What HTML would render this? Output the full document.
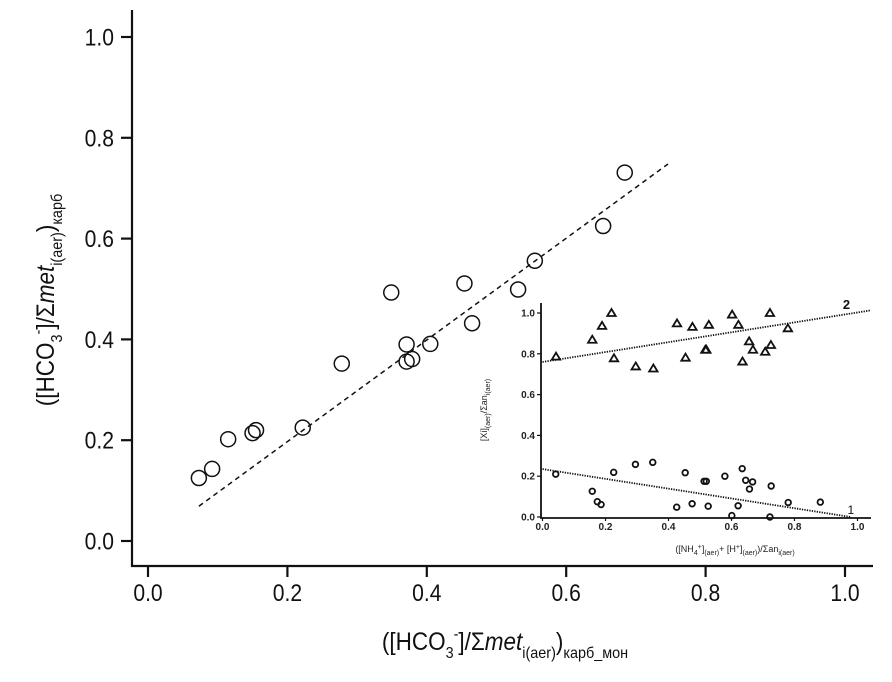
<!DOCTYPE html>
<html><head><meta charset="utf-8"><style>
html,body{margin:0;padding:0;background:#fff;}
svg{display:block;font-family:"Liberation Sans",sans-serif;}
</style></head><body>
<svg id="chart" width="892" height="682" viewBox="0 0 892 682">
<g id="main"></g>
<g id="inset"></g>
<text transform="translate(54,300) rotate(-90) scale(0.9,1)" text-anchor="middle" font-size="25" fill="#111">([HCO<tspan font-size="16" dy="8">3</tspan><tspan font-size="16" dy="-19">-</tspan><tspan dy="11">]/Σ</tspan><tspan font-style="italic">met</tspan><tspan font-size="16" dy="8">i(aer)</tspan><tspan dy="-8">)</tspan><tspan font-size="16" dy="8">карб</tspan></text>
<text transform="translate(505,650) scale(0.9,1)" text-anchor="middle" font-size="25" fill="#111">([HCO<tspan font-size="16" dy="8">3</tspan><tspan font-size="16" dy="-19">-</tspan><tspan dy="11">]/Σ</tspan><tspan font-style="italic">met</tspan><tspan font-size="16" dy="8">i(aer)</tspan><tspan dy="-8">)</tspan><tspan font-size="16" dy="8">карб_мон</tspan></text>
<text transform="translate(487,410) rotate(-90)" text-anchor="middle" font-size="9" fill="#222">[Xi]<tspan font-size="7" dy="3">(aer)</tspan><tspan dy="-3">/Σan</tspan><tspan font-size="7" dy="3">i(aer)</tspan></text>
<text x="735" y="552" text-anchor="middle" font-size="9" fill="#222">([NH<tspan font-size="7" dy="3">4</tspan><tspan font-size="7" dy="-6">+</tspan><tspan dy="3">]</tspan><tspan font-size="7" dy="3">(aer)</tspan><tspan dy="-3">+ [H</tspan><tspan font-size="7" dy="-3">+</tspan><tspan dy="3">]</tspan><tspan font-size="7" dy="3">(aer)</tspan><tspan dy="-3">)/Σan</tspan><tspan font-size="7" dy="3">i(aer)</tspan></text>
</svg>
<script>
const mainX=[0.073,0.092,0.115,0.150,0.155,0.222,0.278,0.349,0.371,0.371,0.379,0.405,0.454,0.465,0.531,0.555,0.653,0.684];
const mainY=[0.125,0.143,0.202,0.214,0.220,0.225,0.352,0.493,0.356,0.390,0.361,0.391,0.511,0.432,0.499,0.556,0.625,0.731];
const fitX=[0.073,0.746];
const fitY=[0.069,0.748];
const ticks=[0,0.2,0.4,0.6,0.8,1.0];
const tickLabels=["0.0","0.2","0.4","0.6","0.8","1.0"];
const triX=[0.043,0.158,0.189,0.219,0.227,0.296,0.352,0.427,0.454,0.476,0.517,0.520,0.528,0.602,0.622,0.635,0.656,0.668,0.707,0.722,0.725,0.779];
const triY=[0.786,0.869,0.937,1.0,0.778,0.738,0.728,0.949,0.781,0.932,0.820,0.820,0.942,0.992,0.942,0.762,0.861,0.820,0.810,1.0,0.843,0.925];
const cirX=[0.042,0.158,0.174,0.186,0.226,0.295,0.350,0.426,0.453,0.475,0.513,0.520,0.526,0.579,0.601,0.621,0.634,0.645,0.657,0.667,0.722,0.726,0.780,0.882];
const cirY=[0.210,0.126,0.075,0.061,0.219,0.258,0.268,0.048,0.217,0.065,0.175,0.175,0.053,0.200,0.007,0.055,0.237,0.180,0.137,0.172,0.0,0.152,0.071,0.073];
const fit2X=[0,1.043], fit2Y=[0.76,1.013];
const fit1X=[0,0.979], fit1Y=[0.235,0];
const NS="http://www.w3.org/2000/svg";
function mk(p,t,a){const e=document.createElementNS(NS,t);for(const k in a)e.setAttribute(k,a[k]);p.appendChild(e);return e;}
const mx=v=>148+v*697, my=v=>541-v*504;
const ix=v=>542.5+v*315, iy=v=>517-v*204;
const M=document.getElementById('main'), I=document.getElementById('inset');
let a=mk(M,'path',{d:'M132,10 V566 H873',fill:'none',stroke:'#111','stroke-width':2.2});


ticks.forEach((t,i)=>{
 let l=mk(M,'line',{x1:121,x2:132,y1:my(t),y2:my(t),stroke:'#111','stroke-width':2.2});
 
 
 let tx=mk(M,'text',{transform:`translate(114,${my(t)+8.5}) scale(0.88,1)`,'text-anchor':'end','font-size':24,fill:'#111'});tx.textContent=tickLabels[i];
 
 
 let l2=mk(M,'line',{x1:mx(t),x2:mx(t),y1:566,y2:577,stroke:'#111','stroke-width':2.2});
 
 
 let t2=mk(M,'text',{transform:`translate(${mx(t)},601) scale(0.88,1)`,'text-anchor':'middle','font-size':24,fill:'#111'});t2.textContent=tickLabels[i];
 
 
});
let f=mk(M,'line',{x1:mx(fitX[0]),y1:my(fitY[0]),x2:mx(fitX[1]),y2:my(fitY[1]),stroke:'#111','stroke-width':1.5,'stroke-dasharray':'5,4'});


mainX.forEach((x,i)=>{
 let c=mk(M,'circle',{cx:mx(x),cy:my(mainY[i]),r:7.5,fill:'none',stroke:'#111','stroke-width':1.5});
 
 
});
let b=mk(I,'path',{d:'M541,303 V518 H871',fill:'none',stroke:'#111','stroke-width':1.8});


ticks.forEach((t,i)=>{
 let l=mk(I,'line',{x1:537,x2:541,y1:iy(t),y2:iy(t),stroke:'#111','stroke-width':1.2});
 
 
 let tx=mk(I,'text',{x:535,y:iy(t)+3.5,'text-anchor':'end','font-size':10,'font-weight':'bold',fill:'#222'});tx.textContent=tickLabels[i];
 
 
 let l2=mk(I,'line',{x1:ix(t),x2:ix(t),y1:518,y2:521,stroke:'#111','stroke-width':1.2});
 
 
 let t2=mk(I,'text',{x:ix(t),y:530,'text-anchor':'middle','font-size':10,'font-weight':'bold',fill:'#222'});t2.textContent=tickLabels[i];
 
 
});
let g2=mk(I,'line',{x1:ix(fit2X[0]),y1:iy(fit2Y[0]),x2:ix(fit2X[1]),y2:iy(fit2Y[1]),stroke:'#111','stroke-width':1.8,'stroke-dasharray':'1.3,1.2'});


let g1=mk(I,'line',{x1:ix(fit1X[0]),y1:iy(fit1Y[0]),x2:ix(fit1X[1]),y2:iy(fit1Y[1]),stroke:'#111','stroke-width':1.8,'stroke-dasharray':'1.3,1.2'});


triX.forEach((x,i)=>{
 const cx=ix(x),cy=iy(triY[i]);
 let p=mk(I,'path',{d:`M${cx},${cy-4} L${cx+4.2},${cy+3} L${cx-4.2},${cy+3} Z`,fill:'none',stroke:'#111','stroke-width':1.8});
 
 
});
cirX.forEach((x,i)=>{
 let c=mk(I,'circle',{cx:ix(x),cy:iy(cirY[i]),r:2.8,fill:'none',stroke:'#111','stroke-width':1.8});
 
 
});
let s2=mk(I,'text',{x:ix(0.965),y:iy(1.045)+5,'font-size':13,'font-weight':'bold','text-anchor':'middle',fill:'#111'});s2.textContent='2';


let s1=mk(I,'text',{x:ix(0.979),y:iy(0.04)+5,'font-size':12,'text-anchor':'middle',fill:'#111'});s1.textContent='1';


</script>
</body></html>
